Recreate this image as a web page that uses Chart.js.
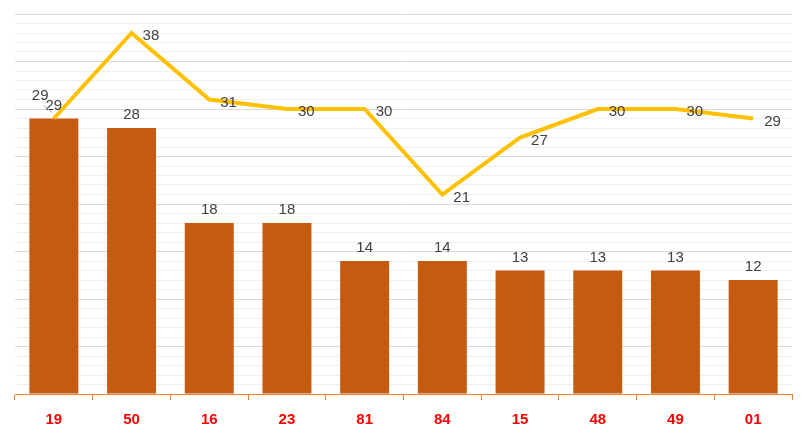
<!DOCTYPE html>
<html>
<head>
<meta charset="utf-8">
<script src="https://cdn.jsdelivr.net/npm/chart.js@4.4.1/dist/chart.umd.min.js"></script>
<style>
  html, body { margin: 0; padding: 0; background: #fff; overflow: hidden; }
  #wrap { width: 807px; height: 440px; }
</style>
</head>
<body>
<div id="wrap"><canvas id="chart"></canvas></div>
<script>
    // data
    const categories = ['19', '50', '16', '23', '81', '84', '15', '48', '49', '01'];
    const barValues = [29, 28, 18, 18, 14, 14, 13, 13, 13, 12];
    const lineValues = [29, 38, 31, 30, 30, 21, 27, 30, 30, 29];

    const labelFont = '15px "Liberation Sans", Arial, sans-serif';

    const valueLabels = {
        id: 'valueLabels',
        afterDatasetsDraw(chart) {
            const ctx = chart.ctx;
            ctx.save();
            ctx.font = labelFont;
            ctx.fillStyle = '#404040';
            ctx.textBaseline = 'middle';

            // bar labels, centered above each bar
            ctx.textAlign = 'center';
            chart.getDatasetMeta(1).data.forEach(function (el, i) {
                ctx.fillText(String(barValues[i]), el.x, el.y - 13);
            });

            // line labels, to the right of each point
            ctx.textAlign = 'left';
            chart.getDatasetMeta(0).data.forEach(function (el, i) {
                if (i === 0) {
                    // moved up-left to clear the bar label, with a leader line
                    ctx.strokeStyle = '#a6a6a6';
                    ctx.lineWidth = 1;
                    ctx.beginPath();
                    ctx.moveTo(el.x - 10, el.y - 13);
                    ctx.lineTo(el.x - 2, el.y - 6);
                    ctx.stroke();
                    ctx.fillText(String(lineValues[i]), el.x - 22, el.y - 23);
                    return;
                }
                ctx.fillText(String(lineValues[i]), el.x + 11, el.y + 3);
            });
            ctx.restore();
        }
    };

    const ctx = document.getElementById('chart').getContext('2d');
    new Chart(ctx, {
        data: {
            labels: categories,
            datasets: [
                {
                    type: 'line',
                    data: lineValues,
                    borderColor: '#FFC000',
                    borderWidth: 4,
                    pointRadius: 0,
                    tension: 0,
                    order: 1
                },
                {
                    type: 'bar',
                    data: barValues,
                    backgroundColor: '#C55A11',
                    barPercentage: 0.63,
                    categoryPercentage: 1,
                    order: 2
                }
            ]
        },
        options: {
            responsive: true,
            maintainAspectRatio: false,
            animation: false,
            layout: { padding: { left: 15, right: 15, top: 14, bottom: 0 } },
            plugins: {
                legend: { display: false },
                tooltip: { enabled: false }
            },
            scales: {
                x: {
                    offset: true,
                    grid: {
                        offset: true,
                        drawOnChartArea: false,
                        drawTicks: true,
                        tickLength: 6,
                        color: '#ED7D31'
                    },
                    border: { display: true, color: '#ED7D31', width: 1 },
                    ticks: {
                        color: '#FF0000',
                        padding: 11,
                        font: { family: '"Liberation Sans", Arial, sans-serif', size: 15, weight: 'bold' }
                    }
                },
                y: {
                    min: 0,
                    max: 40,
                    ticks: { display: false, stepSize: 1 },
                    border: { display: false },
                    grid: {
                        drawTicks: false,
                        color: function (c) {
                            if (c.tick.value === 0) return 'rgba(0,0,0,0)';
                            return c.tick.value % 5 === 0 ? '#d9d9d9' : '#efefef';
                        },
                        lineWidth: 1
                    }
                }
            }
        },
        plugins: [valueLabels]
    });
</script>
</body>
</html>
